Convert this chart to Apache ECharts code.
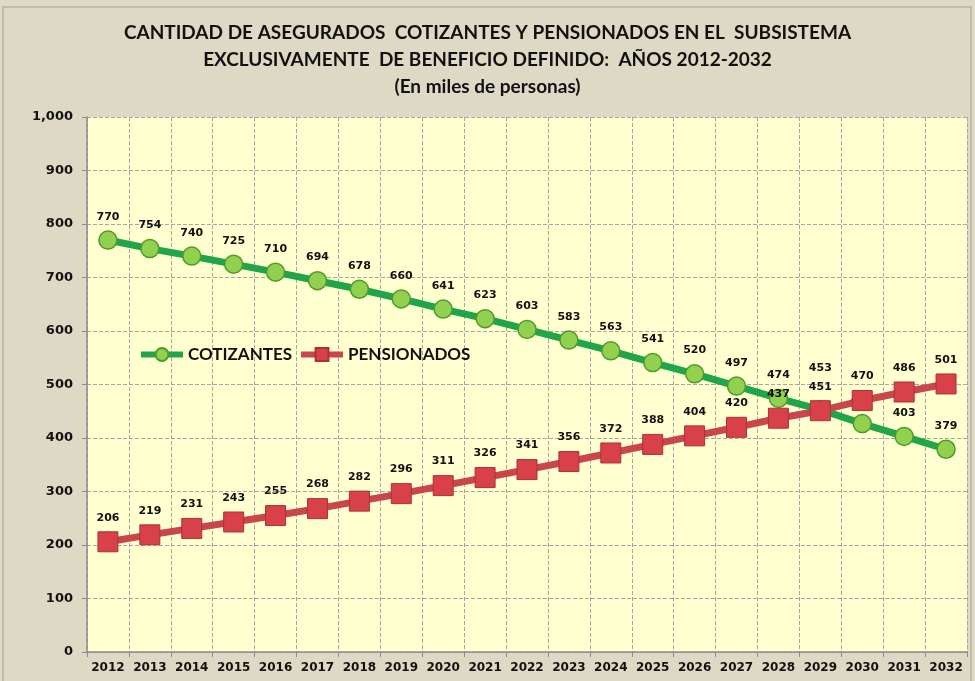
<!DOCTYPE html>
<html>
<head>
<meta charset="utf-8">
<script src="https://cdn.jsdelivr.net/npm/echarts@6/dist/echarts.min.js"></script>
<style>
  html, body { margin: 0; padding: 0; background: #fff; }
  #main { width: 975px; height: 681px; }
</style>
</head>
<body>
<div id="main"></div>
<script>
// años
var anios = ['2012','2013','2014','2015','2016','2017','2018','2019','2020','2021','2022',
             '2023','2024','2025','2026','2027','2028','2029','2030','2031','2032'];
// miles de personas
var cotizantes = [770,754,740,725,710,694,678,660,641,623,603,583,563,541,520,497,474,453,427,403,379];
var pensionados = [206,219,231,243,255,268,282,296,311,326,341,356,372,388,404,420,437,451,470,486,501];

var fuente = 'Lato, "Open Sans", sans-serif';
var fuenteNum = '"DejaVu Sans", Verdana, sans-serif';

// en 2029 la etiqueta verde va encima de la roja
var datosCot = cotizantes.map(function (v, i) {
    if (anios[i] == '2029') {
        return { value: v, label: { distance: 26 } };
    }
    return v;
});

var myChart = echarts.init(document.getElementById('main'));
var option = {
    backgroundColor: '#ddd9c4',
    animation: false,
    title: {
        text: 'CANTIDAD DE ASEGURADOS  COTIZANTES Y PENSIONADOS EN EL  SUBSISTEMA\nEXCLUSIVAMENTE  DE BENEFICIO DEFINIDO:  AÑOS 2012-2032\n(En miles de personas)',
        left: 'center',
        top: 14,
        textStyle: {
            fontFamily: fuente,
            fontWeight: 'bold',
            fontSize: 19,
            lineHeight: 27,
            color: '#111'
        }
    },
    legend: {
        left: 133,
        top: 341,
        itemWidth: 42,
        itemHeight: 16,
        itemGap: 6,
        lineStyle: { width: 6 },
        textStyle: { fontFamily: fuente, fontWeight: 'bold', fontSize: 17, color: '#111' },
        data: ['COTIZANTES', 'PENSIONADOS']
    },
    grid: {
        left: 87, right: 8, top: 117, bottom: 29,
        show: true,
        backgroundColor: '#ffffd0',
        borderWidth: 0
    },
    xAxis: {
        type: 'category',
        data: anios,
        boundaryGap: true,
        axisLine: { lineStyle: { color: '#8c8c8c', width: 1.5 } },
        axisTick: { show: true, interval: 0, alignWithLabel: false, length: 5, lineStyle: { color: '#8c8c8c' } },
        axisLabel: { interval: 0, fontFamily: fuenteNum, fontWeight: 'bold', fontSize: 12, color: '#111', margin: 10 },
        splitLine: { show: true, interval: 0, lineStyle: { color: '#a6a6a6', type: 'dashed' } }
    },
    yAxis: {
        type: 'value',
        min: 0, max: 1000, interval: 100,
        axisLine: { show: true, lineStyle: { color: '#8c8c8c', width: 1.5 } },
        axisTick: { show: true, length: 5, lineStyle: { color: '#8c8c8c' } },
        axisLabel: {
            fontFamily: fuenteNum, fontWeight: 'bold', fontSize: 13, color: '#111', margin: 14,
            formatter: function (v) { return v.toLocaleString('en-US'); }
        },
        splitLine: { show: true, lineStyle: { color: '#a6a6a6', type: 'dashed' } }
    },
    series: [
        {
            name: 'COTIZANTES',
            type: 'line',
            data: datosCot,
            symbol: 'circle',
            symbolSize: 18,
            lineStyle: { color: '#1fa54a', width: 7 },
            itemStyle: { color: '#92d050', borderColor: '#4f9a2c', borderWidth: 1.5 },
            label: {
                show: true, position: 'top', distance: 8,
                fontFamily: fuenteNum, fontWeight: 'bold', fontSize: 11, color: '#111'
            },
            z: 3
        },
        {
            name: 'PENSIONADOS',
            type: 'line',
            data: pensionados,
            symbol: 'rect',
            symbolSize: 20,
            lineStyle: { color: '#c9464d', width: 7 },
            itemStyle: { color: '#d8404a', borderColor: '#a8323a', borderWidth: 1 },
            label: {
                show: true, position: 'top', distance: 8,
                fontFamily: fuenteNum, fontWeight: 'bold', fontSize: 11, color: '#111'
            },
            z: 4
        }
    ],
    graphic: [{
        type: 'rect',
        shape: { x: 3, y: 7, width: 968, height: 680 },
        style: { fill: 'none', stroke: '#b5b2a3', lineWidth: 1.5 },
        silent: true
    }]
};
myChart.setOption(option);
</script>
</body>
</html>
